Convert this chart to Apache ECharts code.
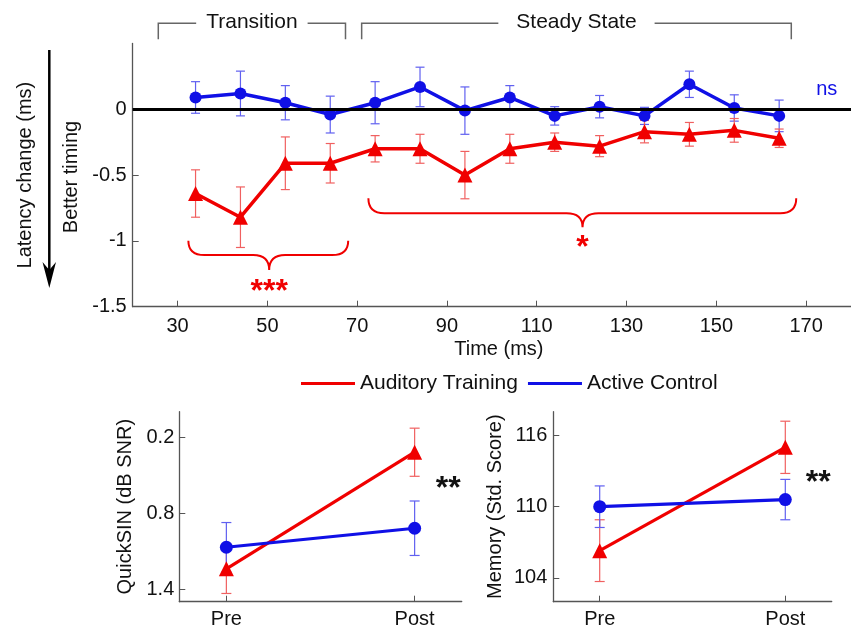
<!DOCTYPE html>
<html><head><meta charset="utf-8">
<script src="https://cdn.jsdelivr.net/npm/echarts@6/dist/echarts.min.js"></script>
<style>html,body{margin:0;padding:0;background:#fff}#c{width:851px;height:630px}</style>
</head><body><div id="c"></div>
<script>
// ---------- data ----------
const timeMs = [34,44,54,64,74,84,94,104,114,124,134,144,154,164];
const auditoryLatency    = [-0.64,-0.82,-0.41,-0.41,-0.30,-0.30,-0.50,-0.30,-0.25,-0.28,-0.17,-0.19,-0.16,-0.22];
const auditoryLatencyErr = [0.18,0.23,0.20,0.15,0.10,0.11,0.18,0.11,0.07,0.08,0.085,0.09,0.09,0.07];
const controlLatency     = [0.09,0.12,0.05,-0.04,0.05,0.17,-0.01,0.09,-0.05,0.02,-0.05,0.19,0.01,-0.05];
const controlLatencyErr  = [0.12,0.17,0.13,0.14,0.16,0.15,0.18,0.09,0.07,0.085,0.065,0.10,0.10,0.12];
const sessions = ['Pre','Post'];
const sessionPos = [1,2];
const auditoryQuickSIN    = [1.24,0.32];
const auditoryQuickSINErr = [0.195,0.19];
const controlQuickSIN     = [1.07,0.92];
const controlQuickSINErr  = [0.195,0.215];
const auditoryMemory    = [106.3,115.0];
const auditoryMemoryErr = [2.6,2.2];
const controlMemory     = [110.0,110.6];
const controlMemoryErr  = [1.75,1.7];
const timeTicks = [30,50,70,90,110,130,150,170];
const latencyTicks = [-1.5,-1,-0.5,0];
const quickSINTicks = [0.2,0.8,1.4];
const memoryTicks = [104,110,116];
const seriesNames = ['Auditory Training','Active Control'];
const phaseLabels = ['Transition','Steady State'];
const phaseRanges = [[25.7,67.4],[71.0,166.7]];
const braceRanges = [[32.4,68.0,50.4],[72.5,167.8,120.2]];
const braceMarks = ['***','*'];

// ---------- styling ----------
const RED = '#f00000', BLUE = '#1010e6';
const RED_ERR = '#f06060', BLUE_ERR = '#6060f0';
const FONT = '"Liberation Sans", Arial, sans-serif';
const AX = '#555';

const chart = echarts.init(document.getElementById('c'), null, {renderer:'canvas'});

function errorSeries(xs, ys, errs, color, gi, cap) {
  return {
    type:'custom', xAxisIndex:gi, yAxisIndex:gi, clip:false, z:2, silent:true,
    data: xs.map((x,i)=>[x, ys[i]-errs[i], ys[i]+errs[i]]),
    encode:{x:0, y:[1,2]},
    renderItem(params, api){
      const lo = api.coord([api.value(0), api.value(1)]);
      const hi = api.coord([api.value(0), api.value(2)]);
      const st = {stroke:color, lineWidth:1.2, fill:null};
      return {type:'group', children:[
        {type:'line', shape:{x1:lo[0],y1:lo[1],x2:hi[0],y2:hi[1]}, style:st},
        {type:'line', shape:{x1:lo[0]-cap,y1:lo[1],x2:lo[0]+cap,y2:lo[1]}, style:st},
        {type:'line', shape:{x1:hi[0]-cap,y1:hi[1],x2:hi[0]+cap,y2:hi[1]}, style:st}
      ]};
    }
  };
}
function lineSeries(name, xs, ys, color, gi, sym, size, width) {
  return {
    type:'line', name, xAxisIndex:gi, yAxisIndex:gi, z:3,
    data: xs.map((x,i)=>[x, ys[i]]),
    symbol:sym, symbolSize:size, showSymbol:true,
    lineStyle:{color, width}, itemStyle:{color}, emphasis:{disabled:true}, animation:false
  };
}
function textSeries(items, gi, style) {
  return {
    type:'custom', xAxisIndex:gi, yAxisIndex:gi, clip:false, z:5, silent:true,
    data: items.map(it=>[it[0], it[1]]),
    renderItem(params, api){
      const p = api.coord([api.value(0), api.value(1)]);
      return {type:'text', x:p[0], y:p[1], style:Object.assign({text:items[params.dataIndex][2], textAlign:'center', textVerticalAlign:'middle'}, style)};
    }
  };
}
const measureCtx = document.createElement('canvas').getContext('2d');
function textW(t, font){ measureCtx.font = font; return measureCtx.measureText(t).width; }

const phaseFont = '21px ' + FONT;
const phaseGaps = [10,18];
const phaseSeries = {
  type:'custom', xAxisIndex:0, yAxisIndex:0, clip:false, z:5, silent:true,
  data: phaseRanges.map(r=>[r[0], r[1]]),
  renderItem(params, api){
    const a = api.coord([api.value(0), 0.653]);
    const b = api.coord([api.value(1), 0.653]);
    const yb = api.coord([api.value(0), 0.532])[1];
    const label = phaseLabels[params.dataIndex];
    const gap = phaseGaps[params.dataIndex];
    const cx = (a[0]+b[0])/2, w = textW(label, phaseFont);
    const st = {stroke:'#666', lineWidth:1.5, fill:null};
    return {type:'group', children:[
      {type:'polyline', shape:{points:[[a[0],yb],[a[0],a[1]],[cx-w/2-gap,a[1]]]}, style:st},
      {type:'polyline', shape:{points:[[cx+w/2+gap,a[1]],[b[0],a[1]],[b[0],yb]]}, style:st},
      {type:'text', x:cx, y:a[1]-1, style:{text:label, font:phaseFont, fill:'#111', textAlign:'center', textVerticalAlign:'middle'}}
    ]};
  }
};
const braceLevels = [[-0.998,-1.107,-1.221],[-0.676,-0.790,-0.897]];
const braceSeries = {
  type:'custom', xAxisIndex:0, yAxisIndex:0, clip:false, z:5, silent:true,
  data: braceRanges.map(r=>[r[0], r[1], r[2]]),
  renderItem(params, api){
    const lv = braceLevels[params.dataIndex];
    const x1 = api.coord([api.value(0), 0])[0];
    const x2 = api.coord([api.value(1), 0])[0];
    const xc = api.coord([api.value(2), 0])[0];
    const ye = api.coord([0, lv[0]])[1], yf = api.coord([0, lv[1]])[1], yt = api.coord([0, lv[2]])[1];
    const r = 16;
    const d = `M${x1},${ye} Q${x1},${yf} ${x1+r},${yf} L${xc-r},${yf} Q${xc},${yf} ${xc},${yt} Q${xc},${yf} ${xc+r},${yf} L${x2-r},${yf} Q${x2},${yf} ${x2},${ye}`;
    return {type:'path', shape:{pathData:d}, style:{stroke:RED, lineWidth:2, fill:null}};
  }
};

function baseAxisLabel(extra){ return Object.assign({color:'#111', fontSize:20, fontFamily:FONT}, extra); }

const option = {
  animation:false,
  backgroundColor:'#fff',
  textStyle:{fontFamily:FONT},
  grid:[
    {left:132.7, top:43.5, width:718.3, height:263.2},
    {left:179.3, top:411.7, width:282.4, height:190},
    {left:553.3, top:411.7, width:278.4, height:190}
  ],
  legend:{
    data:seriesNames.map(n=>({name:n})), icon:'rect', itemWidth:54, itemHeight:3, itemGap:10,
    left:296, top:368, textStyle:{fontSize:21, color:'#111', fontFamily:FONT}, selectedMode:false
  },
  xAxis:[
    {type:'value', gridIndex:0, min:20, max:180, splitLine:{show:false},
     axisLine:{onZero:false, lineStyle:{color:AX, width:1.3}},
     axisTick:{inside:true, length:6, customValues:timeTicks, lineStyle:{color:AX}},
     axisLabel:baseAxisLabel({customValues:timeTicks, margin:10}),
     name:'Time (ms)', nameLocation:'middle', nameGap:33,
     nameTextStyle:{fontSize:20, color:'#111', fontFamily:FONT, padding:[0,0,0,14]}},
    {type:'value', gridIndex:1, min:0.75, max:2.25, splitLine:{show:false},
     axisLine:{onZero:false, lineStyle:{color:AX, width:1.3}},
     axisTick:{inside:true, length:6, customValues:sessionPos, lineStyle:{color:AX}},
     axisLabel:baseAxisLabel({customValues:sessionPos, margin:8, formatter:v=>sessions[Math.round(v)-1]})},
    {type:'value', gridIndex:2, min:0.75, max:2.25, splitLine:{show:false},
     axisLine:{onZero:false, lineStyle:{color:AX, width:1.3}},
     axisTick:{inside:true, length:6, customValues:sessionPos, lineStyle:{color:AX}},
     axisLabel:baseAxisLabel({customValues:sessionPos, margin:8, formatter:v=>sessions[Math.round(v)-1]})}
  ],
  yAxis:[
    {type:'value', gridIndex:0, min:-1.5, max:0.5, splitLine:{show:false},
     axisLine:{show:true, onZero:false, lineStyle:{color:AX, width:1.3}},
     axisTick:{show:true, inside:true, length:6, customValues:latencyTicks, lineStyle:{color:AX}},
     axisLabel:baseAxisLabel({customValues:latencyTicks, margin:6}),
     name:'Latency change (ms)', nameLocation:'middle', nameGap:97,
     nameTextStyle:{fontSize:20, color:'#111', fontFamily:FONT}},
    {type:'value', gridIndex:1, min:0, max:1.5, inverse:true, splitLine:{show:false},
     axisLine:{show:true, onZero:false, lineStyle:{color:AX, width:1.3}},
     axisTick:{show:true, inside:true, length:6, customValues:quickSINTicks, lineStyle:{color:AX}},
     axisLabel:baseAxisLabel({customValues:quickSINTicks, margin:5}),
     name:'QuickSIN (dB SNR)', nameLocation:'middle', nameGap:44,
     nameTextStyle:{fontSize:20, color:'#111', fontFamily:FONT}},
    {type:'value', gridIndex:2, min:102, max:118, splitLine:{show:false},
     axisLine:{show:true, onZero:false, lineStyle:{color:AX, width:1.3}},
     axisTick:{show:true, inside:true, length:6, customValues:memoryTicks, lineStyle:{color:AX}},
     axisLabel:baseAxisLabel({customValues:memoryTicks, margin:6}),
     name:'Memory (Std. Score)', nameLocation:'middle', nameGap:48,
     nameTextStyle:{fontSize:20, color:'#111', fontFamily:FONT}}
  ],
  series:[
    {type:'line', xAxisIndex:0, yAxisIndex:0, data:[], z:1, silent:true,
     markLine:{silent:true, symbol:'none', animation:false, label:{show:false},
       lineStyle:{color:'#000', width:3, type:'solid'}, data:[{yAxis:0}]}},
    errorSeries(timeMs, controlLatency, controlLatencyErr, BLUE_ERR, 0, 4.5),
    errorSeries(timeMs, auditoryLatency, auditoryLatencyErr, RED_ERR, 0, 4.5),
    lineSeries('Auditory Training', timeMs, auditoryLatency, RED, 0, 'triangle', 15, 3.5),
    lineSeries('Active Control', timeMs, controlLatency, BLUE, 0, 'circle', 12, 3.5),
    errorSeries(sessionPos, auditoryQuickSIN, auditoryQuickSINErr, RED_ERR, 1, 5),
    errorSeries(sessionPos, controlQuickSIN, controlQuickSINErr, BLUE_ERR, 1, 5),
    lineSeries('Auditory Training', sessionPos, auditoryQuickSIN, RED, 1, 'triangle', 15, 3.2),
    lineSeries('Active Control', sessionPos, controlQuickSIN, BLUE, 1, 'circle', 13, 3.2),
    errorSeries(sessionPos, auditoryMemory, auditoryMemoryErr, RED_ERR, 2, 5),
    errorSeries(sessionPos, controlMemory, controlMemoryErr, BLUE_ERR, 2, 5),
    lineSeries('Auditory Training', sessionPos, auditoryMemory, RED, 2, 'triangle', 15, 3.2),
    lineSeries('Active Control', sessionPos, controlMemory, BLUE, 2, 'circle', 13, 3.2),
    phaseSeries,
    braceSeries,
    textSeries([[braceRanges[0][2], -1.388, braceMarks[0]], [braceRanges[1][2], -1.052, braceMarks[1]]], 0,
      {font:'bold 32px ' + FONT, fill:RED}),
    textSeries([[174.6, 0.147, 'ns']], 0, {font:'20px ' + FONT, fill:BLUE}),
    textSeries([[2.178, 0.614, '**']], 1, {font:'bold 32px ' + FONT, fill:'#111'}),
    textSeries([[2.177, 111.94, '**']], 2, {font:'bold 32px ' + FONT, fill:'#111'})
  ],
  graphic:[
    {type:'text', x:71.7, y:177, rotation:Math.PI/2,
     style:{text:'Better timing', font:'20px ' + FONT, fill:'#111', textAlign:'center', textVerticalAlign:'middle'}},
    {type:'line', shape:{x1:49.3, y1:50, x2:49.3, y2:272}, style:{stroke:'#000', lineWidth:2.5}},
    {type:'polygon', shape:{points:[[42.5,262],[49.3,288],[56,262],[49.3,270]]}, style:{fill:'#000'}}
  ]
};
chart.setOption(option);
</script></body></html>
